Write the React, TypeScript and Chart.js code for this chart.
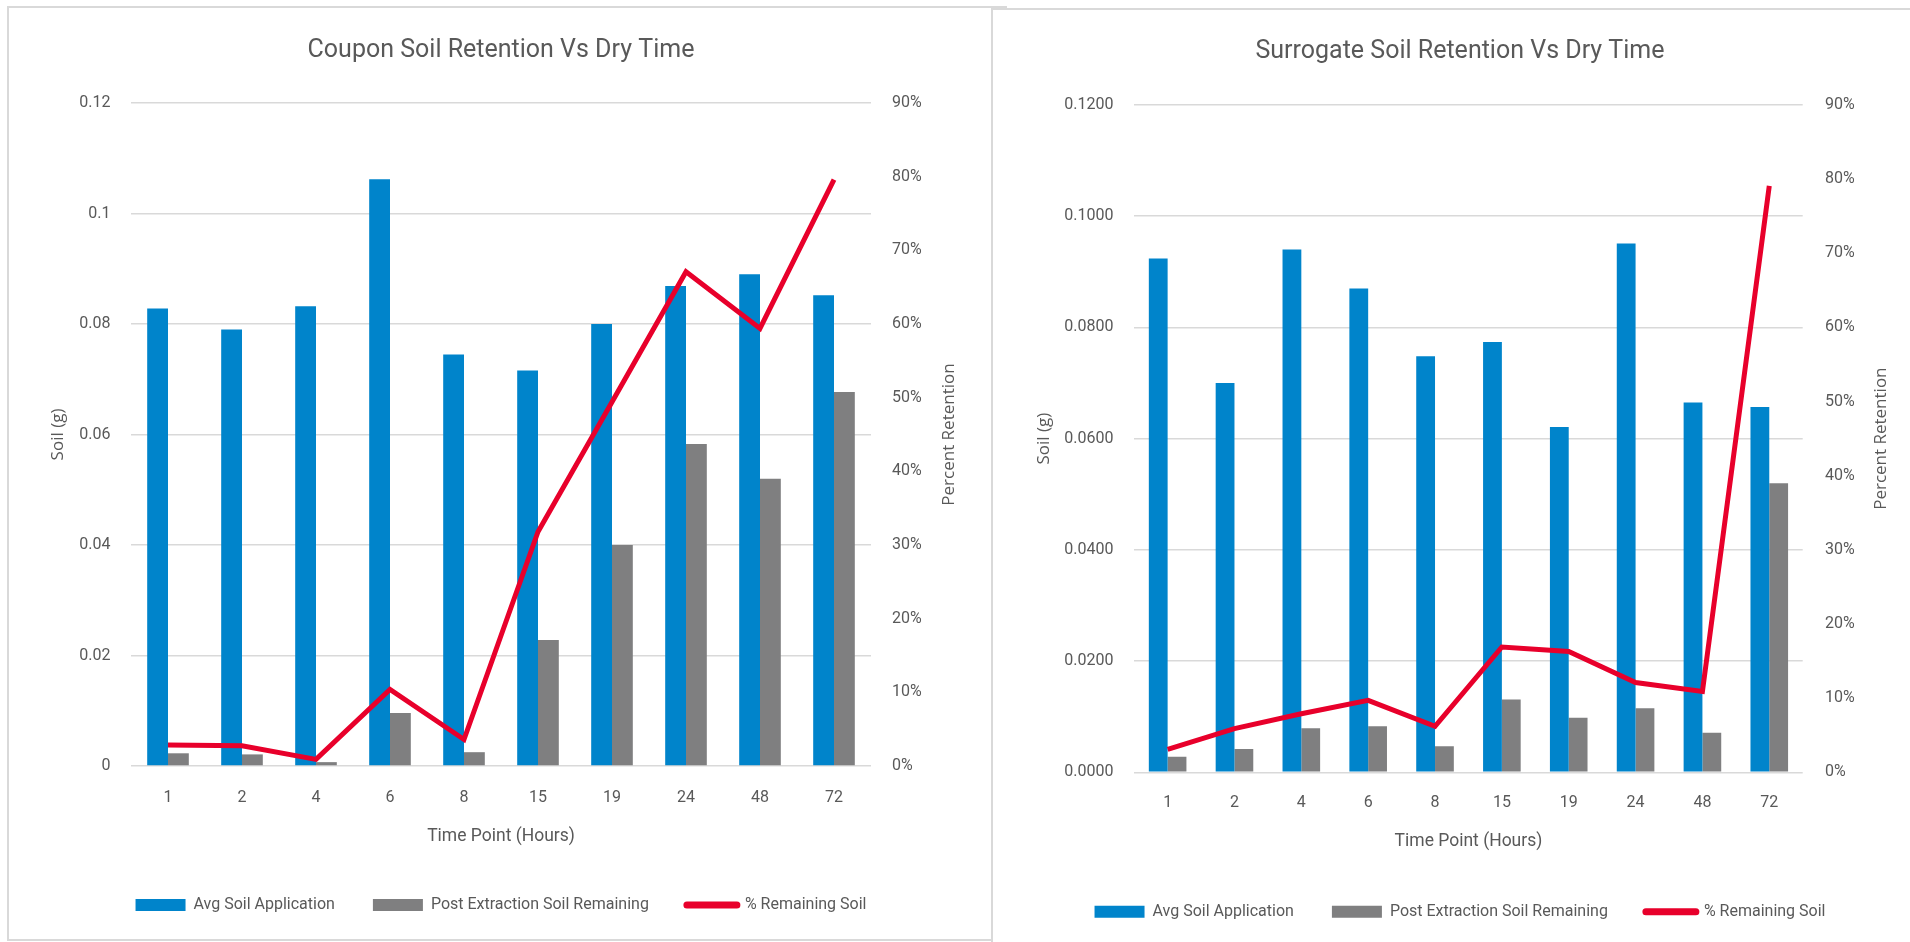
import React, { useEffect, useRef } from 'react';
import { Chart, registerables } from 'chart.js';

Chart.register(...registerables);

// ---------------- data ----------------
const categories = ['1', '2', '4', '6', '8', '15', '19', '24', '48', '72'];

const couponAvgSoil = [0.0828, 0.079, 0.0832, 0.1062, 0.0745, 0.0716, 0.08, 0.0869, 0.089, 0.0852];
const couponPostExtraction = [0.0023, 0.0021, 0.0007, 0.0096, 0.0025, 0.0228, 0.04, 0.0583, 0.052, 0.0677];
const couponRemainingPct = [2.85, 2.75, 0.9, 10.4, 3.6, 31.8, 49.4, 67.1, 59.4, 79.6];

const surrogateAvgSoil = [0.0924, 0.07, 0.094, 0.087, 0.0748, 0.0774, 0.0621, 0.0951, 0.0665, 0.0657];
const surrogatePostExtraction = [0.0028, 0.0042, 0.0079, 0.0083, 0.0047, 0.0131, 0.0098, 0.0115, 0.0071, 0.052];
const surrogateRemainingPct = [3.1, 5.9, 7.9, 9.7, 6.2, 16.9, 16.3, 12.1, 10.9, 79.1];

const couponSoilTicks = ['0', '0.02', '0.04', '0.06', '0.08', '0.1', '0.12'];
const surrogateSoilTicks = ['0.0000', '0.0200', '0.0400', '0.0600', '0.0800', '0.1000', '0.1200'];
const percentTicks = ['0%', '10%', '20%', '30%', '40%', '50%', '60%', '70%', '80%', '90%'];

const seriesNames = ['Avg Soil Application', 'Post Extraction Soil Remaining', '% Remaining Soil'];

// ---------------- style ----------------
const BLUE = '#0084CB';
const GRAY = '#7F7F80';
const RED = '#E8002B';
const GRID = '#D9D9D9';
const TEXT = '#595959';
const FONT_COND = "Roboto, 'Liberation Sans', sans-serif";
const FONT_AXIS = "'Open Sans', 'Noto Sans', sans-serif";

const rightAxisTitlePlugin = {
  id: 'rightAxisTitle',
  afterDraw(chart: any, _args: any, opts: any) {
    if (!opts || !opts.text) return;
    const area = chart.chartArea;
    const ctx = chart.ctx;
    ctx.save();
    ctx.translate(opts.x, (area.top + area.bottom) / 2);
    ctx.rotate(-Math.PI / 2);
    ctx.font = `${opts.size}px ${opts.family}`;
    ctx.fillStyle = opts.color;
    ctx.textAlign = 'center';
    ctx.textBaseline = 'middle';
    ctx.fillText(opts.text, 0, 0);
    ctx.restore();
  },
};

function buildConfig(s: any) {
  const tickFont = { family: FONT_COND, size: 16 };
  return {
    type: 'bar',
    data: {
      labels: categories,
      datasets: [
        {
          type: 'bar',
          label: seriesNames[0],
          data: s.avg,
          backgroundColor: BLUE,
          yAxisID: 'y',
          categoryPercentage: 0.5625,
          barPercentage: 1,
          order: 1,
        },
        {
          type: 'bar',
          label: seriesNames[1],
          data: s.post,
          backgroundColor: GRAY,
          yAxisID: 'y',
          categoryPercentage: 0.5625,
          barPercentage: 1,
          order: 1,
        },
        {
          type: 'line',
          label: seriesNames[2],
          data: s.pct,
          borderColor: RED,
          backgroundColor: RED,
          borderWidth: 5,
          pointRadius: 0,
          tension: 0,
          yAxisID: 'y1',
          order: 0,
        },
      ],
    },
    plugins: [rightAxisTitlePlugin],
    options: {
      responsive: false,
      animation: false,
      layout: { padding: { left: 0, right: 0, top: 0, bottom: s.padBottom } },
      plugins: {
        tooltip: { enabled: false },
        title: {
          display: true,
          text: s.title,
          color: TEXT,
          font: { family: FONT_COND, size: 25, weight: 'normal', lineHeight: 1.2 },
          padding: { top: s.titlePadTop, bottom: s.titlePadBottom },
        },
        legend: {
          position: 'bottom',
          labels: {
            usePointStyle: true,
            pointStyleWidth: 50,
            boxHeight: 12,
            padding: 38,
            color: TEXT,
            font: { family: FONT_COND, size: 16 },
            generateLabels: (chart: any) =>
              chart.data.datasets.map((ds: any, i: number) => {
                const isLine = ds.type === 'line';
                return {
                  text: ds.label,
                  fillStyle: isLine ? ds.borderColor : ds.backgroundColor,
                  strokeStyle: isLine ? ds.borderColor : ds.backgroundColor,
                  lineWidth: isLine ? 7 : 0,
                  lineCap: 'round',
                  pointStyle: isLine ? 'line' : 'rect',
                  hidden: false,
                  datasetIndex: i,
                  fontColor: TEXT,
                };
              }),
          },
        },
        rightAxisTitle: {
          text: 'Percent Retention',
          x: s.y1TitleX,
          size: 17,
          family: FONT_AXIS,
          color: TEXT,
        },
      },
      scales: {
        x: {
          grid: { display: false, drawTicks: false },
          border: { display: false },
          ticks: { color: TEXT, font: tickFont, padding: s.xTickPad, maxRotation: 0, autoSkip: false },
          title: {
            display: true,
            text: 'Time Point (Hours)',
            color: TEXT,
            font: { family: FONT_COND, size: 17.5, lineHeight: 1.2 },
            padding: { top: 0, bottom: s.xTitlePadBottom },
          },
          afterFit: (sc: any) => {
            sc.height = s.xHeight;
          },
        },
        y: {
          position: 'left',
          min: 0,
          max: 0.12,
          ticks: {
            stepSize: 0.02,
            color: TEXT,
            font: tickFont,
            padding: s.yTickPad,
            callback: (v: any, i: number) => (s.soilTicks[i] !== undefined ? s.soilTicks[i] : String(v)),
          },
          grid: { color: GRID, lineWidth: 1.5, drawTicks: false },
          border: { display: false },
          title: {
            display: true,
            text: 'Soil (g)',
            color: TEXT,
            font: { family: FONT_AXIS, size: 17, lineHeight: 1.2 },
            padding: { top: s.yTitlePad, bottom: 0 },
          },
          afterFit: (sc: any) => {
            sc.width = s.yWidth;
          },
        },
        y1: {
          position: 'right',
          min: 0,
          max: 90,
          ticks: {
            stepSize: 10,
            color: TEXT,
            font: tickFont,
            padding: s.y1TickPad,
            callback: (v: any, i: number) => (percentTicks[i] !== undefined ? percentTicks[i] : `${v}%`),
          },
          grid: { display: false, drawTicks: false },
          border: { display: false },
          afterFit: (sc: any) => {
            sc.width = s.y1Width;
          },
        },
      },
    },
  };
}

const couponSpec = {
  title: 'Coupon Soil Retention Vs Dry Time',
  avg: couponAvgSoil,
  post: couponPostExtraction,
  pct: couponRemainingPct,
  soilTicks: couponSoilTicks,
  x: 0,
  y: 0,
  width: 1002,
  height: 942,
  padBottom: 19,
  titlePadTop: 36,
  titlePadBottom: 37,
  yWidth: 131,
  yTitlePad: 47.8,
  yTickPad: 20.5,
  y1Width: 131,
  y1TickPad: 21,
  y1TitleX: 949,
  xHeight: 93,
  xTickPad: 22.4,
  xTitlePadBottom: 11.5,
};

const surrogateSpec = {
  title: 'Surrogate Soil Retention Vs Dry Time',
  avg: surrogateAvgSoil,
  post: surrogatePostExtraction,
  pct: surrogateRemainingPct,
  soilTicks: surrogateSoilTicks,
  x: 992,
  y: 0,
  width: 936,
  height: 942,
  padBottom: 12.3,
  titlePadTop: 36.7,
  titlePadBottom: 38.3,
  yWidth: 142.2,
  yTitlePad: 41.8,
  yTickPad: 20.7,
  y1Width: 125.3,
  y1TickPad: 22.3,
  y1TitleX: 889.5,
  xHeight: 93.4,
  xTickPad: 20.8,
  xTitlePadBottom: 13.5,
};

function ComboChart({ spec }: { spec: any }) {
  const ref = useRef<HTMLCanvasElement | null>(null);
  useEffect(() => {
    if (!ref.current) return;
    const chart = new Chart(ref.current, buildConfig(spec) as any);
    return () => chart.destroy();
  }, [spec]);
  return (
    <canvas
      ref={ref}
      width={spec.width}
      height={spec.height}
      style={{ position: 'absolute', left: spec.x, top: spec.y, display: 'block' }}
    />
  );
}

export default function App() {
  return (
    <div
      style={{
        position: 'fixed',
        left: 0,
        top: 0,
        width: 1910,
        height: 942,
        overflow: 'hidden',
        background: '#FFFFFF',
      }}
    >
      <div
        style={{
          position: 'absolute',
          left: 7,
          top: 6,
          width: 1000,
          height: 935,
          border: `2px solid ${GRID}`,
          boxSizing: 'border-box',
        }}
      />
      <ComboChart spec={couponSpec} />
      <div
        style={{
          position: 'absolute',
          left: 991,
          top: 8,
          width: 940,
          height: 950,
          border: `2px solid ${GRID}`,
          boxSizing: 'border-box',
          background: '#FFFFFF',
        }}
      />
      <ComboChart spec={surrogateSpec} />
    </div>
  );
}
